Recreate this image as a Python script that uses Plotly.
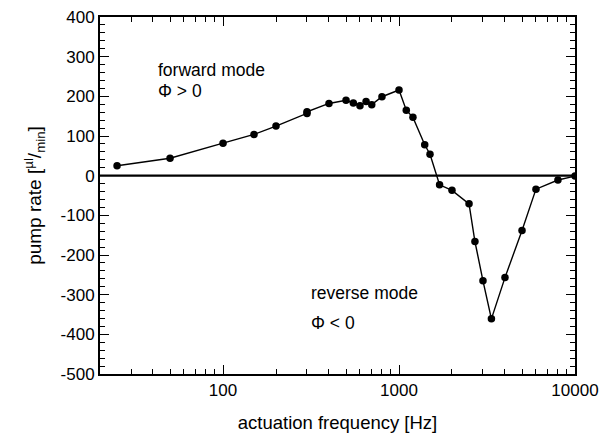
import plotly.graph_objects as go

freq_hz = [25, 50, 100, 150, 200, 300, 300, 400, 500, 550, 600, 650, 700, 800, 1000,
           1100, 1200, 1400, 1500, 1700, 2000, 2500, 2700, 3000, 3350, 4000, 5000,
           6000, 8000, 10000]
pump_rate = [25, 44, 82, 104, 125, 157, 161, 182, 190, 183, 176, 187, 179, 199, 216,
             165, 147, 78, 54, -23, -37, -71, -166, -265, -361, -257, -138,
             -34, -11, -1]

x_tickvals = [100, 1000, 10000]
x_ticktext = ["100", "1000", "10000"]
y_tickvals = [400, 300, 200, 100, 0, -100, -200, -300, -400, -500]
y_ticktext = ["400", "300", "200", "100", "0", "-100", "-200", "-300", "-400", "-500"]

font = "Liberation Sans, Arial, sans-serif"

fig = go.Figure()
fig.add_trace(go.Scatter(
    x=freq_hz, y=pump_rate, mode="lines+markers",
    line=dict(color="black", width=1.4),
    marker=dict(color="black", size=7.5),
    showlegend=False,
))

fig.add_hline(y=0, line=dict(color="black", width=2.4))

ann = [
    ("forward mode", 156, 70),
    ("\u03A6 > 0", 156, 91),
    ("reverse mode", 309, 293),
    ("\u03A6 < 0", 309, 323),
]
W, H = 613, 433
L, R, T, B = 100, 38, 17, 59
for text, px, py in ann:
    fig.add_annotation(
        text=text, xref="paper", yref="paper",
        x=(px - L) / (W - L - R), y=1 - (py - T) / (H - T - B),
        xanchor="left", yanchor="middle", showarrow=False,
        font=dict(family=font, size=17.5, color="black"),
    )

fig.update_layout(
    width=W, height=H,
    margin=dict(l=L, r=R, t=T, b=B),
    paper_bgcolor="white", plot_bgcolor="white",
    font=dict(family=font, color="black"),
)
fig.update_xaxes(
    type="log", range=[1.301, 4.0], automargin=False,
    tickvals=x_tickvals, ticktext=x_ticktext,
    ticks="inside", ticklen=9, tickwidth=1.3, tickcolor="black",
    minor=dict(ticks="inside", ticklen=5, tickwidth=1.2, tickcolor="black",
               tickvals=[20, 30, 40, 50, 60, 70, 80, 90, 200, 300, 400, 500, 600, 700, 800, 900,
                         2000, 3000, 4000, 5000, 6000, 7000, 8000, 9000], showgrid=False),
    showgrid=False, zeroline=False,
    showline=True, linecolor="black", linewidth=2, mirror="allticks",
    tickfont=dict(size=17, family=font),
    title=dict(text="actuation frequency [Hz]", font=dict(size=18.5, family=font), standoff=18),
)
fig.update_yaxes(
    range=[-500, 400], automargin=False,
    tickvals=y_tickvals, ticktext=y_ticktext,
    ticks="inside", ticklen=9, tickwidth=1.3, tickcolor="black",
    minor=dict(ticks="inside", ticklen=5, tickwidth=1.2, tickcolor="black", dtick=20, showgrid=False),
    showgrid=False, zeroline=False,
    showline=True, linecolor="black", linewidth=2, mirror="allticks",
    tickfont=dict(size=17, family=font),
    title=dict(text="pump rate [<sup>\u00b5l</sup>/<sub>min</sub>]", font=dict(size=19, family=font), standoff=14),
)

fig.write_html("out.html")
